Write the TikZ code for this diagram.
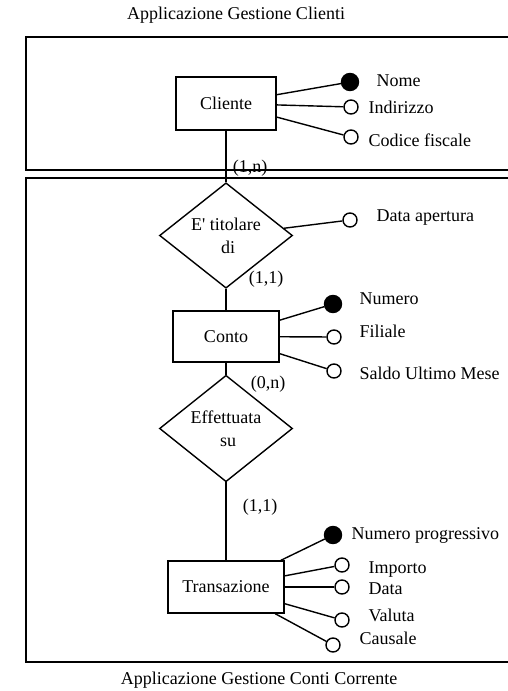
\documentclass[tikz,border=0pt]{standalone}
\usepackage{fontspec}
\setmainfont{Liberation Serif}
\usetikzlibrary{shapes.geometric}

\begin{document}
\begin{tikzpicture}[x=1pt, y=-1pt, line width=1.4pt,
    every node/.style={font=\fontsize{18}{23}\selectfont},
    entity/.style={draw, rectangle, inner sep=0pt},
    relation/.style={draw, diamond, inner sep=0pt, align=center,
      minimum width=133pt, minimum height=105pt},
    attr/.style={draw, circle, fill=white, minimum size=14pt, inner sep=0pt},
    keyattr/.style={draw, circle, fill=black, minimum size=17pt, inner sep=0pt},
    attrname/.style={anchor=west, inner sep=0pt, text height=12pt, text depth=0pt},
    card/.style={inner sep=0pt, text height=12pt, text depth=0pt},
    frame/.style={line width=1.8pt}]
    \useasboundingbox (0,0) rectangle (507,691);

    % the two applications
    \draw[frame] (510,37) -- (26,37) -- (26,170) -- (510,170);
    \draw[frame] (510,178) -- (26,178) -- (26,662) -- (510,662);
    \node at (236,15) (titolo1) {Applicazione Gestione Clienti};
    \node at (259,680) (titolo2) {Applicazione Gestione Conti Corrente};

    % entities and relations
    \node[entity, minimum width=100pt, minimum height=53pt] at (226,103.5) (cliente) {Cliente};
    \node[relation] at (226,235.5) (titolare) {E\textquotesingle{} titolare\\di\hspace*{-4pt}};
    \node[entity, minimum width=106pt, minimum height=51pt] at (226,336.5) (conto) {Conto};
    \node[relation, minimum height=93pt] at (226,428.5) (effettuata) {Effettuata\\su\hspace*{-4pt}};
    \node[entity, minimum width=116pt, minimum height=52pt] at (226,587) (transazione) {Transazione};

    \draw (cliente) -- (titolare);
    \draw (titolare) -- (conto);
    \draw (conto) -- (effettuata);
    \draw (effettuata) -- (transazione);

    \node[card] at (250,166) (card1) {(1,n)};
    \node[card] at (266,277) (card2) {(1,1)};
    \node[card] at (268,382) (card3) {(0,n)};
    \node[card] at (260,505) (card4) {(1,1)};

    % Cliente
    \node[keyattr] at (350,82) (nome) {};
    \node[attr] at (351,107) (indirizzo) {};
    \node[attr] at (351,137) (codice) {};
    \node[attrname] at (376,80) (nomet) {Nome};
    \node[attrname] at (368,107) (indirizzot) {Indirizzo};
    \node[attrname] at (368,140) (codicet) {Codice fiscale};
    \draw (cliente) -- (nome);
    \draw (cliente) -- (indirizzo);
    \draw (cliente) -- (codice);

    % E' titolare di
    \node[attr] at (350,220) (apertura) {};
    \node[attrname] at (376,215) (aperturat) {Data apertura};
    \draw (titolare) -- (apertura);

    % Conto
    \node[keyattr] at (333,304) (numero) {};
    \node[attr] at (334,337) (filiale) {};
    \node[attr] at (334,371) (saldo) {};
    \node[attrname] at (359,298) (numerot) {Numero};
    \node[attrname] at (359,331) (filialet) {Filiale};
    \node[attrname] at (359,373) (saldot) {Saldo Ultimo Mese};
    \draw (conto) -- (numero);
    \draw (conto) -- (filiale);
    \draw (conto) -- (saldo);

    % Transazione
    \node[keyattr] at (333,535) (progressivo) {};
    \node[attr] at (342,565) (importo) {};
    \node[attr] at (342,587) (data) {};
    \node[attr] at (342,620) (valuta) {};
    \node[attr] at (333,645) (causale) {};
    \node[attrname] at (351,533) (progressivot) {Numero progressivo};
    \node[attrname] at (368,567) (importot) {Importo};
    \node[attrname] at (368,588) (datat) {Data};
    \node[attrname] at (368,615) (valutat) {Valuta};
    \node[attrname] at (359,638) (causalet) {Causale};
    \draw (transazione) -- (progressivo);
    \draw (transazione) -- (importo);
    \draw (transazione) -- (data);
    \draw (transazione) -- (valuta);
    \draw (transazione) -- (causale);
\end{tikzpicture}
\end{document}
